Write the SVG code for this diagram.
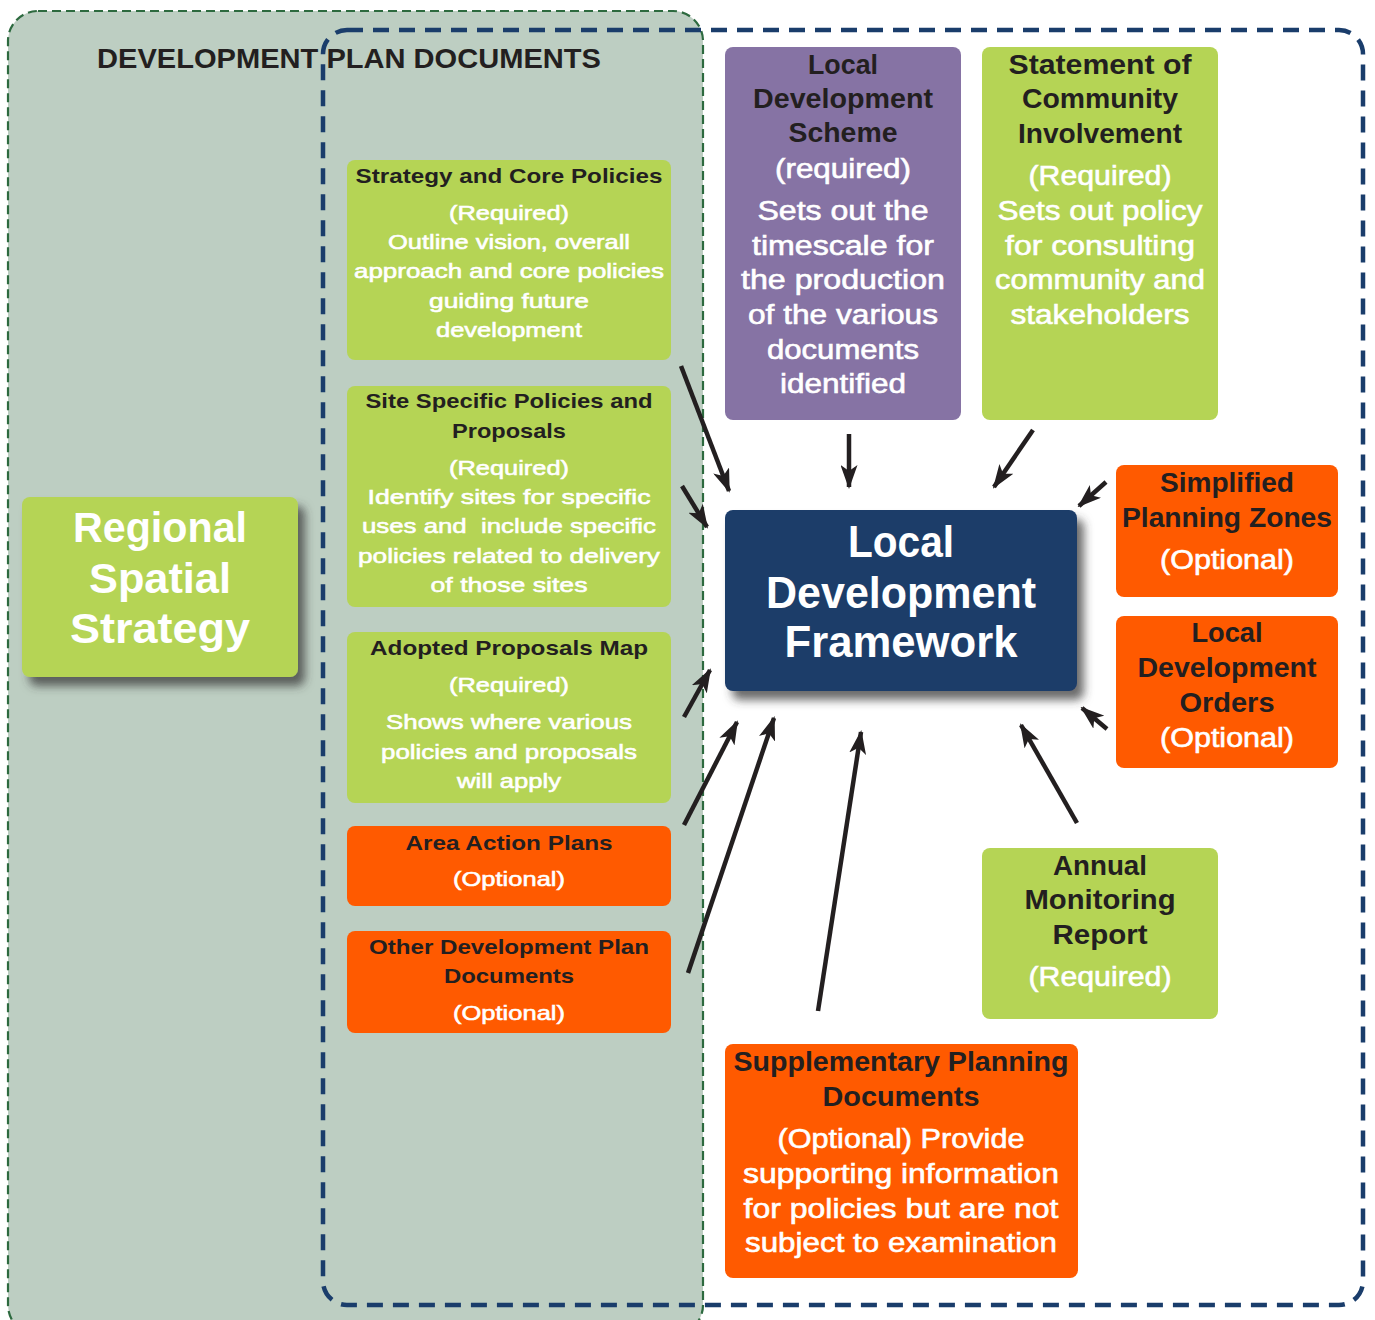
<svg xmlns="http://www.w3.org/2000/svg" width="1375" height="1320" viewBox="0 0 1375 1320">
<defs>
<style>
text{font-family:"Liberation Sans","DejaVu Sans",Arial,sans-serif;text-anchor:middle}
.dk{fill:#231f20;font-weight:bold}
.wt{fill:#ffffff;stroke:#ffffff;stroke-width:0.6}
.s21{font-size:21px}
.s27{font-size:27px}
.green{fill:#b5d455}
.orange{fill:#ff5a00}
.conn line{stroke:#231f20;stroke-width:4.5;marker-end:url(#ah)}
</style>
<marker id="ah" viewBox="0 0 24 17" refX="22" refY="8.5" markerUnits="userSpaceOnUse" markerWidth="24" markerHeight="17" orient="auto">
<path d="M0,0 L24,8.5 L0,17 L6,8.5 Z" fill="#231f20"/>
</marker>
<filter id="sh" x="-20%" y="-20%" width="150%" height="150%">
<feDropShadow dx="7" dy="9" stdDeviation="5" flood-color="#3a3a3a" flood-opacity="0.75"/>
</filter>
</defs>

<g id="dpd-region">
<rect x="8" y="11" width="695" height="1324" rx="30" fill="#bdcec2" stroke="#2d6a3f" stroke-width="2.2" stroke-dasharray="9 5"/>
<text x="349" y="68" class="dk" style="font-size:28px" textLength="504" lengthAdjust="spacingAndGlyphs">DEVELOPMENT PLAN DOCUMENTS</text>
</g>
<g id="ldf-region">
<rect x="323" y="30" width="1040" height="1275" rx="24" fill="none" stroke="#1a3d6b" stroke-width="4.5" stroke-dasharray="16 10"/>
</g>

<g id="rss">
<rect x="22" y="497" width="276" height="180" rx="8" class="green" filter="url(#sh)"/>
<text class="wt" style="font-size:42px;font-weight:bold;stroke-width:0" x="160" y="542" textLength="174" lengthAdjust="spacingAndGlyphs">Regional</text>
<text class="wt" style="font-size:42px;font-weight:bold;stroke-width:0" x="160" y="593" textLength="142" lengthAdjust="spacingAndGlyphs">Spatial</text>
<text class="wt" style="font-size:42px;font-weight:bold;stroke-width:0" x="160" y="643" textLength="180" lengthAdjust="spacingAndGlyphs">Strategy</text>
</g>

<g id="strategy">
<rect x="347" y="160" width="324" height="200" rx="8" class="green"/>
<text class="dk s21" x="509" y="183" textLength="307" lengthAdjust="spacingAndGlyphs">Strategy and Core Policies</text>
<text class="wt s21" x="509" y="220" textLength="120" lengthAdjust="spacingAndGlyphs">(Required)</text>
<text class="wt s21" x="509" y="249" textLength="242" lengthAdjust="spacingAndGlyphs">Outline vision, overall</text>
<text class="wt s21" x="509" y="278" textLength="310" lengthAdjust="spacingAndGlyphs">approach and core policies</text>
<text class="wt s21" x="509" y="308" textLength="160" lengthAdjust="spacingAndGlyphs">guiding future</text>
<text class="wt s21" x="509" y="337" textLength="146" lengthAdjust="spacingAndGlyphs">development</text>
</g>

<g id="site">
<rect x="347" y="386" width="324" height="221" rx="8" class="green"/>
<text class="dk s21" x="509" y="408" textLength="287" lengthAdjust="spacingAndGlyphs">Site Specific Policies and</text>
<text class="dk s21" x="509" y="438" textLength="114" lengthAdjust="spacingAndGlyphs">Proposals</text>
<text class="wt s21" x="509" y="475" textLength="120" lengthAdjust="spacingAndGlyphs">(Required)</text>
<text class="wt s21" x="509" y="504" textLength="283" lengthAdjust="spacingAndGlyphs">Identify sites for specific</text>
<text class="wt s21" x="509" y="533" textLength="294" lengthAdjust="spacingAndGlyphs" style="white-space:pre">uses and  include specific</text>
<text class="wt s21" x="509" y="563" textLength="302" lengthAdjust="spacingAndGlyphs">policies related to delivery</text>
<text class="wt s21" x="509" y="592" textLength="157" lengthAdjust="spacingAndGlyphs">of those sites</text>
</g>

<g id="adopted">
<rect x="347" y="632" width="324" height="171" rx="8" class="green"/>
<text class="dk s21" x="509" y="655" textLength="278" lengthAdjust="spacingAndGlyphs">Adopted Proposals Map</text>
<text class="wt s21" x="509" y="692" textLength="120" lengthAdjust="spacingAndGlyphs">(Required)</text>
<text class="wt s21" x="509" y="729" textLength="246" lengthAdjust="spacingAndGlyphs">Shows where various</text>
<text class="wt s21" x="509" y="759" textLength="256" lengthAdjust="spacingAndGlyphs">policies and proposals</text>
<text class="wt s21" x="509" y="788" textLength="104" lengthAdjust="spacingAndGlyphs">will apply</text>
</g>

<g id="aap">
<rect x="347" y="826" width="324" height="80" rx="8" class="orange"/>
<text class="dk s21" x="509" y="850" textLength="207" lengthAdjust="spacingAndGlyphs">Area Action Plans</text>
<text class="wt s21" x="509" y="886" textLength="112" lengthAdjust="spacingAndGlyphs">(Optional)</text>
</g>

<g id="other">
<rect x="347" y="931" width="324" height="102" rx="8" class="orange"/>
<text class="dk s21" x="509" y="954" textLength="280" lengthAdjust="spacingAndGlyphs">Other Development Plan</text>
<text class="dk s21" x="509" y="983" textLength="130" lengthAdjust="spacingAndGlyphs">Documents</text>
<text class="wt s21" x="509" y="1020" textLength="112" lengthAdjust="spacingAndGlyphs">(Optional)</text>
</g>

<g id="lds">
<rect x="725" y="47" width="236" height="373" rx="8" fill="#8673a4"/>
<text class="dk s27" x="843" y="74" textLength="70" lengthAdjust="spacingAndGlyphs">Local</text>
<text class="dk s27" x="843" y="108" textLength="180" lengthAdjust="spacingAndGlyphs">Development</text>
<text class="dk s27" x="843" y="142" textLength="109" lengthAdjust="spacingAndGlyphs">Scheme</text>
<text class="wt s27" x="843" y="178" textLength="136" lengthAdjust="spacingAndGlyphs">(required)</text>
<text class="wt s27" x="843" y="220" textLength="171" lengthAdjust="spacingAndGlyphs">Sets out the</text>
<text class="wt s27" x="843" y="255" textLength="182" lengthAdjust="spacingAndGlyphs">timescale for</text>
<text class="wt s27" x="843" y="289" textLength="204" lengthAdjust="spacingAndGlyphs">the production</text>
<text class="wt s27" x="843" y="324" textLength="190" lengthAdjust="spacingAndGlyphs">of the various</text>
<text class="wt s27" x="843" y="359" textLength="152" lengthAdjust="spacingAndGlyphs">documents</text>
<text class="wt s27" x="843" y="393" textLength="126" lengthAdjust="spacingAndGlyphs">identified</text>
</g>

<g id="sci">
<rect x="982" y="47" width="236" height="373" rx="8" class="green"/>
<text class="dk s27" x="1100" y="74" textLength="183" lengthAdjust="spacingAndGlyphs">Statement of</text>
<text class="dk s27" x="1100" y="108" textLength="156" lengthAdjust="spacingAndGlyphs">Community</text>
<text class="dk s27" x="1100" y="143" textLength="164" lengthAdjust="spacingAndGlyphs">Involvement</text>
<text class="wt s27" x="1100" y="185" textLength="143" lengthAdjust="spacingAndGlyphs">(Required)</text>
<text class="wt s27" x="1100" y="220" textLength="205" lengthAdjust="spacingAndGlyphs">Sets out policy</text>
<text class="wt s27" x="1100" y="255" textLength="190" lengthAdjust="spacingAndGlyphs">for consulting</text>
<text class="wt s27" x="1100" y="289" textLength="210" lengthAdjust="spacingAndGlyphs">community and</text>
<text class="wt s27" x="1100" y="324" textLength="179" lengthAdjust="spacingAndGlyphs">stakeholders</text>
</g>

<g id="ldf">
<rect x="725" y="510" width="352" height="181" rx="8" fill="#1b3c69" filter="url(#sh)"/>
<text class="wt" style="font-size:44px;font-weight:bold;stroke-width:0" x="901" y="557" textLength="106" lengthAdjust="spacingAndGlyphs">Local</text>
<text class="wt" style="font-size:44px;font-weight:bold;stroke-width:0" x="901" y="608" textLength="270" lengthAdjust="spacingAndGlyphs">Development</text>
<text class="wt" style="font-size:44px;font-weight:bold;stroke-width:0" x="901" y="657" textLength="233" lengthAdjust="spacingAndGlyphs">Framework</text>
</g>

<g id="spz">
<rect x="1116" y="465" width="222" height="132" rx="8" class="orange"/>
<text class="dk s27" x="1227" y="492" textLength="134" lengthAdjust="spacingAndGlyphs">Simplified</text>
<text class="dk s27" x="1227" y="527" textLength="210" lengthAdjust="spacingAndGlyphs">Planning Zones</text>
<text class="wt s27" x="1227" y="569" textLength="134" lengthAdjust="spacingAndGlyphs">(Optional)</text>
</g>

<g id="ldo">
<rect x="1116" y="616" width="222" height="152" rx="8" class="orange"/>
<text class="dk s27" x="1227" y="642" textLength="71" lengthAdjust="spacingAndGlyphs">Local</text>
<text class="dk s27" x="1227" y="677" textLength="179" lengthAdjust="spacingAndGlyphs">Development</text>
<text class="dk s27" x="1227" y="712" textLength="95" lengthAdjust="spacingAndGlyphs">Orders</text>
<text class="wt s27" x="1227" y="747" textLength="134" lengthAdjust="spacingAndGlyphs">(Optional)</text>
</g>

<g id="amr">
<rect x="982" y="848" width="236" height="171" rx="8" class="green"/>
<text class="dk s27" x="1100" y="875" textLength="94" lengthAdjust="spacingAndGlyphs">Annual</text>
<text class="dk s27" x="1100" y="909" textLength="151" lengthAdjust="spacingAndGlyphs">Monitoring</text>
<text class="dk s27" x="1100" y="944" textLength="95" lengthAdjust="spacingAndGlyphs">Report</text>
<text class="wt s27" x="1100" y="986" textLength="143" lengthAdjust="spacingAndGlyphs">(Required)</text>
</g>

<g id="spd">
<rect x="725" y="1044" width="353" height="234" rx="8" class="orange"/>
<text class="dk s27" x="901" y="1071" textLength="335" lengthAdjust="spacingAndGlyphs">Supplementary Planning</text>
<text class="dk s27" x="901" y="1106" textLength="157" lengthAdjust="spacingAndGlyphs">Documents</text>
<text class="wt s27" x="901" y="1148" textLength="247" lengthAdjust="spacingAndGlyphs">(Optional) Provide</text>
<text class="wt s27" x="901" y="1183" textLength="316" lengthAdjust="spacingAndGlyphs">supporting information</text>
<text class="wt s27" x="901" y="1218" textLength="315" lengthAdjust="spacingAndGlyphs">for policies but are not</text>
<text class="wt s27" x="901" y="1252" textLength="312" lengthAdjust="spacingAndGlyphs">subject to examination</text>
</g>

<g id="connectors" class="conn">
<line x1="681" y1="366" x2="729" y2="491"/>
<line x1="682" y1="486" x2="707" y2="527"/>
<line x1="684" y1="717" x2="710" y2="670"/>
<line x1="684" y1="825" x2="737" y2="722"/>
<line x1="688" y1="973" x2="774" y2="718"/>
<line x1="818" y1="1011" x2="861" y2="732"/>
<line x1="849" y1="434" x2="849" y2="487"/>
<line x1="1033" y1="430" x2="994" y2="487"/>
<line x1="1106" y1="482" x2="1079" y2="506"/>
<line x1="1107" y1="729" x2="1082" y2="708"/>
<line x1="1077" y1="823" x2="1021" y2="725"/>
</g>
</svg>
